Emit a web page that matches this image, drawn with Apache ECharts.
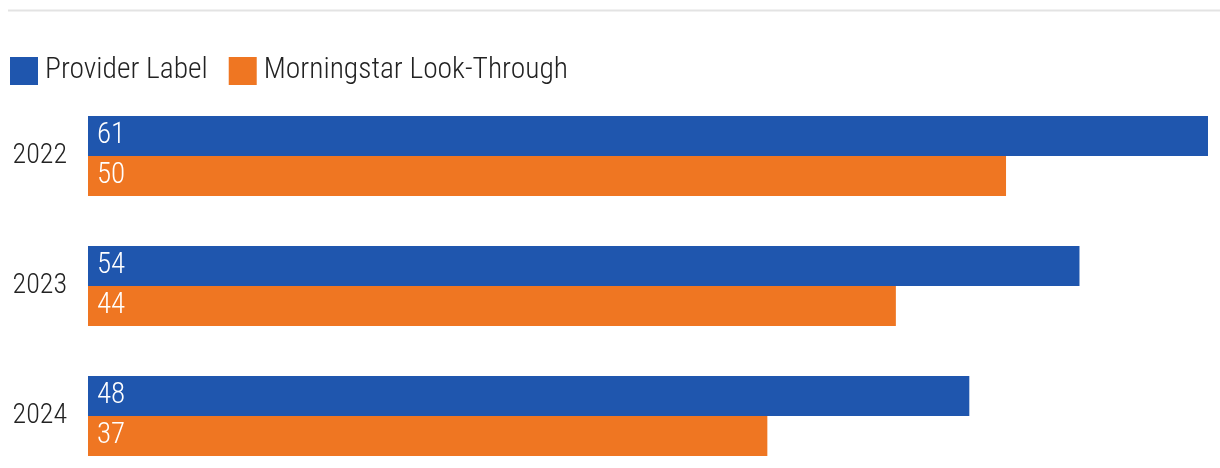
<!DOCTYPE html>
<html><head><meta charset="utf-8">
<script src="https://cdn.jsdelivr.net/npm/echarts@6/dist/echarts.min.js"></script>
<style>html,body{margin:0;padding:0;background:#fff}#c{width:1220px;height:468px}</style>
</head><body><div id="c"></div>
<script>
const categories = ['2022', '2023', '2024'];
const providerLabel = [61, 54, 48];
const lookThrough = [50, 44, 37];
const seriesNames = ['Provider Label', 'Morningstar Look-Through'];

const FONT = '"Roboto Condensed","DejaVu Sans Condensed",sans-serif';
const chart = echarts.init(document.getElementById('c'), null, {renderer: 'canvas'});
const lbl = {show: true, position: 'insideLeft', distance: 9, color: '#fff', fontSize: 29, fontWeight: 300, fontFamily: FONT, formatter: '{c}'};
chart.setOption({
  animation: false,
  textStyle: {fontFamily: FONT},
  graphic: [{type: 'line', shape: {x1: 8, y1: 10.5, x2: 1220, y2: 10.5}, style: {stroke: '#e3e3e3', lineWidth: 2}}],
  legend: {
    left: 10, top: 56, itemWidth: 28, itemHeight: 28, itemGap: 21, icon: 'rect', padding: 0,
    textStyle: {fontSize: 29.5, fontWeight: 300, color: '#222', fontFamily: FONT, padding: [0, 0, 0, 2]},
    data: seriesNames
  },
  grid: {left: 88, right: 12, top: 91, height: 390, outerBoundsMode: 'none', containLabel: false},
  xAxis: {type: 'value', min: 0, max: 61, show: false},
  yAxis: {
    type: 'category', data: categories, inverse: true,
    axisLine: {show: false}, axisTick: {show: false}, splitLine: {show: false},
    axisLabel: {fontSize: 28, fontWeight: 300, color: '#222', margin: 21, fontFamily: FONT}
  },
  series: [
    {name: seriesNames[0], type: 'bar', data: providerLabel, barWidth: 40, barGap: '0%', itemStyle: {color: '#1f56ae'}, label: lbl},
    {name: seriesNames[1], type: 'bar', data: lookThrough, barWidth: 40, barGap: '0%', itemStyle: {color: '#ef7622'}, label: lbl}
  ]
});
</script></body></html>
